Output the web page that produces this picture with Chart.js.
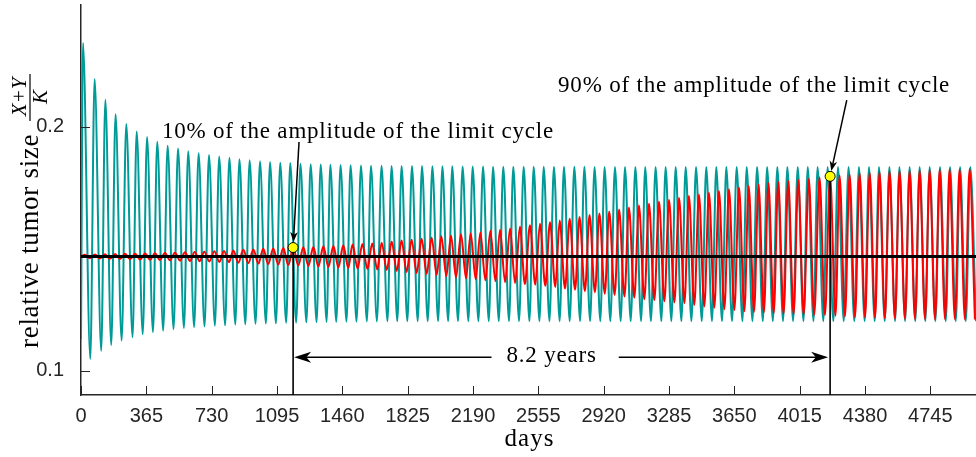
<!DOCTYPE html>
<html>
<head>
<meta charset="utf-8">
<title>Relative tumor size</title>
<script src="https://cdn.jsdelivr.net/npm/chart.js@4.4.1/dist/chart.umd.min.js"></script>
<style>
  html, body { margin: 0; padding: 0; background: #fff; }
  #wrap { width: 976px; height: 457px; position: relative; }
</style>
</head>
<body>
<div id="wrap"><canvas id="chart"></canvas></div>
<script>
// ==============================
// Data
// ==============================
const xTicks = [0, 365, 730, 1095, 1460, 1825, 2190, 2555, 2920, 3285, 3650, 4015, 4380, 4745];
const yTicks = [0.1, 0.2];

const equilibrium = 0.1468;

// teal: damped oscillation onto the limit cycle
const tealStart = 0.113;
const tealPeakDays = [11, 76, 136, 193, 253, 311, 369, 426, 484, 542,
  599, 657, 715, 772, 829, 885, 942, 1000, 1056, 1113,
  1169, 1226, 1283, 1339, 1393, 1450, 1506, 1564, 1620, 1679,
  1735, 1791, 1849, 1905, 1963, 2019, 2074, 2132, 2188, 2246,
  2302, 2359, 2415, 2473, 2529, 2585, 2642, 2698, 2756, 2812,
  2869, 2925, 2983, 3039, 3097, 3152, 3210, 3266, 3322, 3378,
  3436, 3493, 3549, 3605, 3663, 3719, 3777, 3833, 3890, 3946,
  4004, 4060, 4115, 4171, 4229, 4288, 4346, 4402, 4458, 4516,
  4572, 4629, 4685, 4741, 4799, 4855, 4911, 4968];
const tealPeaks = [0.2344, 0.2196, 0.2111, 0.2052, 0.2012, 0.1981, 0.1958, 0.1939, 0.1923, 0.1911,
  0.1900, 0.1892, 0.1885, 0.1878, 0.1873, 0.1867, 0.1863, 0.1859, 0.1856, 0.1853,
  0.1852, 0.1849, 0.1847, 0.1846, 0.1845, 0.1844, 0.1843, 0.1842, 0.1841, 0.1841,
  0.1840, 0.1840, 0.1839, 0.1839, 0.1838, 0.1838, 0.1838, 0.1837, 0.1837, 0.1837,
  0.1836, 0.1836, 0.1836, 0.1836, 0.1836, 0.1836, 0.1836, 0.1836, 0.1836, 0.1836,
  0.1835, 0.1835, 0.1835, 0.1835, 0.1835, 0.1835, 0.1835, 0.1835, 0.1835, 0.1835,
  0.1835, 0.1835, 0.1835, 0.1835, 0.1835, 0.1835, 0.1835, 0.1835, 0.1835, 0.1835,
  0.1835, 0.1835, 0.1835, 0.1835, 0.1835, 0.1835, 0.1835, 0.1835, 0.1835, 0.1835,
  0.1835, 0.1835, 0.1835, 0.1835, 0.1835, 0.1835, 0.1835, 0.1835];
const tealTroughDays = [52, 113, 169, 227, 288, 345, 402, 459, 517, 575,
  632, 690, 748, 805, 862, 918, 975, 1033, 1089, 1146,
  1202, 1259, 1316, 1372, 1426, 1483, 1539, 1597, 1653, 1712,
  1767, 1823, 1881, 1937, 1995, 2051, 2106, 2164, 2220, 2278,
  2334, 2391, 2447, 2505, 2561, 2617, 2674, 2730, 2788, 2844,
  2901, 2957, 3015, 3071, 3129, 3184, 3242, 3298, 3354, 3410,
  3468, 3525, 3581, 3637, 3695, 3751, 3809, 3865, 3922, 3978,
  4036, 4092, 4147, 4203, 4261, 4320, 4378, 4434, 4490, 4548,
  4604, 4661, 4717, 4773, 4831, 4887, 4943, 5000];
const tealTroughs = [0.1048, 0.1081, 0.1105, 0.1123, 0.1137, 0.1149, 0.1158, 0.1164, 0.1170, 0.1175,
  0.1178, 0.1181, 0.1184, 0.1186, 0.1189, 0.1190, 0.1192, 0.1193, 0.1194, 0.1196,
  0.1197, 0.1198, 0.1199, 0.1200, 0.1200, 0.1201, 0.1201, 0.1202, 0.1202, 0.1203,
  0.1203, 0.1203, 0.1203, 0.1203, 0.1203, 0.1203, 0.1203, 0.1203, 0.1203, 0.1203,
  0.1203, 0.1203, 0.1203, 0.1203, 0.1203, 0.1203, 0.1203, 0.1203, 0.1203, 0.1203,
  0.1203, 0.1203, 0.1203, 0.1203, 0.1203, 0.1203, 0.1203, 0.1203, 0.1203, 0.1203,
  0.1203, 0.1203, 0.1203, 0.1203, 0.1203, 0.1203, 0.1203, 0.1203, 0.1203, 0.1203,
  0.1203, 0.1203, 0.1203, 0.1203, 0.1203, 0.1203, 0.1203, 0.1203, 0.1203, 0.1203,
  0.1203, 0.1203, 0.1203, 0.1203, 0.1203, 0.1203, 0.1203, 0.1203];

// red: growing oscillation away from the equilibrium
const redStart = 0.1468;
const redPeakDays = [22, 78, 134, 190, 246, 302, 358, 413, 469, 525,
  581, 635, 689, 745, 799, 851, 907, 963, 1018, 1074,
  1130, 1186, 1242, 1298, 1354, 1410, 1465, 1517, 1572, 1627,
  1680, 1736, 1791, 1847, 1903, 1959, 2013, 2067, 2123, 2177,
  2231, 2287, 2341, 2397, 2452, 2508, 2564, 2620, 2674, 2730,
  2785, 2841, 2896, 2951, 3006, 3061, 3117, 3173, 3229, 3285,
  3341, 3396, 3452, 3508, 3564, 3620, 3676, 3730, 3785, 3840,
  3895, 3951, 4007, 4066, 4126, 4185, 4238, 4294, 4350, 4406,
  4461, 4517, 4573, 4629, 4685, 4741, 4797, 4852, 4908, 4964];
const redPeaks = [0.1475, 0.1476, 0.1477, 0.1478, 0.1479, 0.1480, 0.1481, 0.1482, 0.1483, 0.1484,
  0.1486, 0.1487, 0.1488, 0.1490, 0.1491, 0.1493, 0.1496, 0.1497, 0.1500, 0.1501,
  0.1503, 0.1505, 0.1506, 0.1507, 0.1510, 0.1511, 0.1514, 0.1517, 0.1519, 0.1522,
  0.1525, 0.1530, 0.1534, 0.1537, 0.1541, 0.1545, 0.1551, 0.1553, 0.1559, 0.1563,
  0.1567, 0.1574, 0.1578, 0.1583, 0.1590, 0.1596, 0.1603, 0.1609, 0.1616, 0.1623,
  0.1630, 0.1638, 0.1645, 0.1653, 0.1661, 0.1669, 0.1677, 0.1685, 0.1693, 0.1700,
  0.1708, 0.1716, 0.1723, 0.1730, 0.1737, 0.1744, 0.1751, 0.1757, 0.1764, 0.1770,
  0.1774, 0.1778, 0.1782, 0.1786, 0.1792, 0.1797, 0.1801, 0.1805, 0.1809, 0.1812,
  0.1815, 0.1818, 0.1819, 0.1820, 0.1822, 0.1823, 0.1825, 0.1826, 0.1826, 0.1827];
const redTroughDays = [50, 106, 162, 218, 274, 330, 386, 441, 497, 553,
  609, 663, 717, 773, 827, 879, 935, 991, 1046, 1102,
  1158, 1214, 1270, 1326, 1382, 1438, 1493, 1545, 1600, 1655,
  1708, 1764, 1819, 1875, 1931, 1987, 2041, 2095, 2151, 2205,
  2259, 2315, 2369, 2425, 2480, 2538, 2594, 2650, 2704, 2760,
  2815, 2871, 2926, 2981, 3036, 3091, 3147, 3203, 3259, 3315,
  3371, 3426, 3482, 3538, 3594, 3650, 3706, 3760, 3815, 3870,
  3925, 3981, 4037, 4096, 4156, 4215, 4268, 4324, 4380, 4436,
  4491, 4547, 4603, 4659, 4715, 4771, 4827, 4882, 4938, 4994];
const redTroughs = [0.1461, 0.1460, 0.1459, 0.1458, 0.1457, 0.1456, 0.1455, 0.1454, 0.1453, 0.1452,
  0.1450, 0.1449, 0.1448, 0.1446, 0.1445, 0.1443, 0.1441, 0.1439, 0.1437, 0.1435,
  0.1433, 0.1431, 0.1429, 0.1427, 0.1425, 0.1423, 0.1421, 0.1419, 0.1417, 0.1415,
  0.1413, 0.1409, 0.1405, 0.1401, 0.1397, 0.1393, 0.1388, 0.1383, 0.1379, 0.1375,
  0.1371, 0.1367, 0.1363, 0.1359, 0.1355, 0.1352, 0.1348, 0.1343, 0.1337, 0.1332,
  0.1326, 0.1321, 0.1315, 0.1310, 0.1304, 0.1299, 0.1293, 0.1289, 0.1285, 0.1280,
  0.1277, 0.1269, 0.1263, 0.1258, 0.1252, 0.1248, 0.1244, 0.1241, 0.1239, 0.1236,
  0.1233, 0.1232, 0.1230, 0.1229, 0.1228, 0.1225, 0.1222, 0.1219, 0.1218, 0.1217,
  0.1215, 0.1214, 0.1214, 0.1212, 0.1212, 0.1211, 0.1211, 0.1211, 0.1210, 0.1210];

// the two marked red peaks (10% and 90% of the limit-cycle amplitude)
const markDays = [1185, 4185];
const markValues = [0.1505, 0.1797];
const markLabels = ['10% of the amplitude of the limit cycle', '90% of the amplitude of the limit cycle'];
const spanLevel = 0.1055;
const spanLabel = '8.2 years';

// ==============================
// Layout of the annotations (data units)
// ==============================
const labelAnchors = [{ x: 452, y: 0.1954 }, { x: 2665, y: 0.2143 }];
const arrowTails = [{ x: 1218, y: 0.1938 }, { x: 4278, y: 0.2110 }];

const AXIS = '#262626';
const SERIF = '"Liberation Serif", "DejaVu Serif", serif';

// ==============================
// Helpers
// ==============================
const toPoints = (start, peakDays, peaks, troughDays, troughs) => {
  const pts = [{ x: 0, y: start }];
  peakDays.forEach((d, i) => {
    pts.push({ x: d, y: peaks[i] });
    pts.push({ x: troughDays[i], y: troughs[i] });
  });
  return pts;
};

const arrowHead = (ctx, tx, ty, ang, len, half) => {
  ctx.save();
  ctx.translate(tx, ty);
  ctx.rotate(ang);
  ctx.beginPath();
  ctx.moveTo(0, 0);
  ctx.lineTo(-len, -half);
  ctx.lineTo(-len * 0.72, 0);
  ctx.lineTo(-len, half);
  ctx.closePath();
  ctx.fill();
  ctx.restore();
};

const segment = (ctx, x1, y1, x2, y2) => {
  ctx.beginPath();
  ctx.moveTo(x1, y1);
  ctx.lineTo(x2, y2);
  ctx.stroke();
};

// ==============================
// Annotation plugin
// ==============================
const annotate = {
  id: 'annotate',
  afterDatasetsDraw(chart) {
    const { ctx, chartArea: area, scales: { x, y } } = chart;
    ctx.save();

    // inward tick marks
    ctx.strokeStyle = AXIS;
    ctx.lineWidth = 1;
    xTicks.forEach(v => {
      const px = Math.round(x.getPixelForValue(v)) + 0.5;
      segment(ctx, px, area.bottom, px, area.bottom - 9);
    });
    yTicks.forEach(v => {
      const py = Math.round(y.getPixelForValue(v)) + 0.5;
      segment(ctx, area.left, py, area.left + 9, py);
    });

    // vertical drop lines from the marked peaks
    ctx.strokeStyle = '#000';
    ctx.lineWidth = 1.6;
    const mx = markDays.map(d => x.getPixelForValue(d));
    const my = markValues.map(v => y.getPixelForValue(v));
    mx.forEach((px, i) => segment(ctx, px, my[i], px, area.bottom));

    // double arrow with the span label
    ctx.fillStyle = '#000';
    ctx.font = `23px ${SERIF}`;
    ctx.letterSpacing = '0.8px';
    const sy = y.getPixelForValue(spanLevel);
    const tw = ctx.measureText(spanLabel).width;
    const tc = (mx[0] + mx[1]) / 2 - 10;
    ctx.lineWidth = 1.6;
    segment(ctx, mx[0] + 10, sy, tc - tw / 2 - 15, sy);
    segment(ctx, tc + tw / 2 + 22, sy, mx[1] - 10, sy);
    arrowHead(ctx, mx[0] + 1, sy, Math.PI, 17, 5.5);
    arrowHead(ctx, mx[1] - 2, sy, 0, 17, 5.5);
    ctx.textAlign = 'center';
    ctx.textBaseline = 'alphabetic';
    ctx.fillText(spanLabel, tc, sy + 5);

    // labels and arrows to the marked peaks
    ctx.textAlign = 'left';
    markLabels.forEach((txt, i) => {
      ctx.fillText(txt, x.getPixelForValue(labelAnchors[i].x), y.getPixelForValue(labelAnchors[i].y));
      const tx0 = x.getPixelForValue(arrowTails[i].x);
      const ty0 = y.getPixelForValue(arrowTails[i].y);
      const ang = Math.atan2(my[i] - ty0, mx[i] - tx0);
      const tipX = mx[i] - Math.cos(ang) * 5.5;
      const tipY = my[i] - Math.sin(ang) * 5.5;
      ctx.lineWidth = 1.5;
      segment(ctx, tx0, ty0, tipX - Math.cos(ang) * 7, tipY - Math.sin(ang) * 7);
      arrowHead(ctx, tipX, tipY, ang, 10, 3.8);
    });

    // yellow markers
    mx.forEach((px, i) => {
      ctx.beginPath();
      ctx.arc(px, my[i], 5, 0, Math.PI * 2);
      ctx.fillStyle = '#ffff00';
      ctx.fill();
      ctx.lineWidth = 1;
      ctx.strokeStyle = '#000';
      ctx.stroke();
    });

    // axis titles
    ctx.fillStyle = '#000';
    ctx.font = `25px ${SERIF}`;
    ctx.letterSpacing = '1px';
    ctx.textAlign = 'center';
    ctx.fillText('days', (area.left + area.right) / 2 + 1, 446);

    ctx.save();
    ctx.rotate(-Math.PI / 2);
    // rotated frame: (u, v) -> screen (v, -u)
    ctx.font = `27px ${SERIF}`;
    ctx.letterSpacing = '0.7px';
    ctx.textAlign = 'left';
    ctx.fillText('relative tumor size', -348, 38);
    ctx.letterSpacing = '0px';
    ctx.font = `italic 21px ${SERIF}`;
    ctx.textAlign = 'center';
    ctx.fillText('X+Y', -97, 26);
    ctx.fillText('K', -97, 47);
    ctx.lineWidth = 1.2;
    segment(ctx, -121, 30, -74, 30);
    ctx.restore();

    ctx.restore();
  }
};

// ==============================
// Chart
// ==============================
const tickFont = { family: '"Liberation Sans", Arial, sans-serif', size: 20 };

new Chart(document.getElementById('chart'), {
  type: 'line',
  data: {
    datasets: [
      {
        data: [{ x: 0, y: equilibrium }, { x: 5000, y: equilibrium }],
        borderColor: '#000', borderWidth: 3, pointRadius: 0
      },
      {
        data: toPoints(redStart, redPeakDays, redPeaks, redTroughDays, redTroughs),
        borderColor: '#ff0000', borderWidth: 2, pointRadius: 0,
        cubicInterpolationMode: 'monotone'
      },
      {
        data: toPoints(tealStart, tealPeakDays, tealPeaks, tealTroughDays, tealTroughs),
        borderColor: '#009a97', borderWidth: 2, pointRadius: 0,
        cubicInterpolationMode: 'monotone'
      }
    ]
  },
  options: {
    responsive: true,
    maintainAspectRatio: false,
    animation: false,
    devicePixelRatio: 1,
    layout: { padding: { top: 5, right: 0, left: 0, bottom: 0 } },
    plugins: { legend: { display: false }, tooltip: { enabled: false } },
    scales: {
      x: {
        type: 'linear', min: 0, max: 5000,
        afterBuildTicks: s => { s.ticks = xTicks.map(v => ({ value: v })); },
        afterFit: s => { s.height = 62; s.paddingLeft = 0; s.paddingRight = 0; },
        grid: { display: false },
        border: { display: true, color: AXIS, width: 1.5 },
        ticks: { autoSkip: false, maxRotation: 0, padding: 1, color: AXIS, font: tickFont, callback: v => String(v) }
      },
      y: {
        type: 'linear', min: 0.09, max: 0.25,
        afterBuildTicks: s => { s.ticks = yTicks.map(v => ({ value: v })); },
        afterFit: s => { s.width = 81; s.paddingTop = 0; s.paddingBottom = 0; },
        grid: { display: false },
        border: { display: true, color: AXIS, width: 1.5 },
        ticks: { padding: 9, color: AXIS, font: tickFont, callback: v => v.toFixed(1) }
      }
    }
  },
  plugins: [annotate]
});
</script>
</body>
</html>
